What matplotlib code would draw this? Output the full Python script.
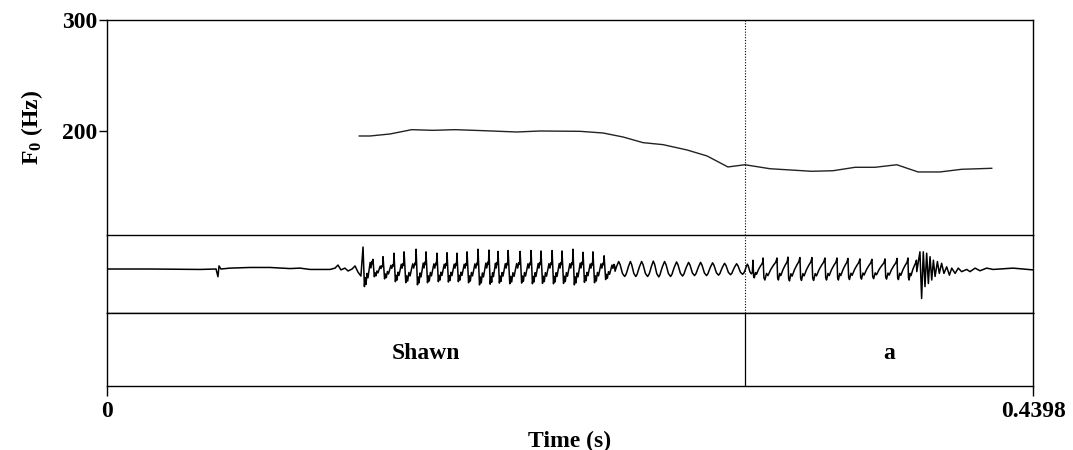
import numpy as np
import matplotlib
matplotlib.use('Agg')
import matplotlib.pyplot as plt

plt.rcParams['font.family'] = ['Liberation Serif', 'DejaVu Serif']
plt.rcParams['font.weight'] = 'bold'
plt.rcParams['axes.labelweight'] = 'bold'
plt.rcParams['mathtext.fontset'] = 'custom'
plt.rcParams['mathtext.rm'] = 'Liberation Serif:bold'
plt.rcParams['mathtext.default'] = 'rm'

# ---- data ----
t_end = 0.4398
boundary = 0.3030
tier_labels = ['Shawn', 'a']

# pitch track
f0_time = [0.1198, 0.1249, 0.1344, 0.1447, 0.1548, 0.1653, 0.1786, 0.1946, 0.2057,
           0.2247, 0.2356, 0.2451, 0.2546, 0.2641, 0.2755, 0.2850, 0.2949, 0.3030,
           0.3149, 0.3347, 0.3448, 0.3553, 0.3648, 0.3751, 0.3852, 0.3956, 0.4059, 0.4202]
f0_hz = [195.5, 195.5, 197.3, 201.2, 200.6, 201.2, 200.3, 199.1, 200.0,
         199.7, 198.2, 194.6, 189.5, 187.7, 182.9, 177.5, 167.6, 169.6,
         166.0, 163.7, 164.2, 167.3, 167.3, 169.6, 163.1, 163.1, 165.5, 166.4]

# waveform: quiet lead-in (time, amplitude)
pre_time = [0.0, 0.0204, 0.0442, 0.0518, 0.0527, 0.0532, 0.0541, 0.0584, 0.0679, 0.0774,
            0.0869, 0.0917, 0.0964, 0.1059, 0.1083, 0.1097, 0.1111, 0.1130, 0.1145,
            0.1164, 0.1178, 0.1192, 0.1206]
pre_amp = [0.0, 0.0, -0.01, 0.0, -0.175, 0.07, 0.0, 0.02, 0.035, 0.035,
           0.01, 0.02, -0.01, -0.01, 0.02, 0.09, -0.02, 0.02, -0.045,
           0.0, 0.07, -0.07, -0.16]

# glottal pulses, three stretches of voicing
pulse1_time = [0.1216, 0.1263, 0.1311, 0.1363, 0.1411, 0.1468, 0.1515, 0.1567, 0.1615,
               0.1662, 0.1710, 0.1762, 0.1814, 0.1857, 0.1905, 0.1962, 0.2014, 0.2061,
               0.2114, 0.2161, 0.2213, 0.2261, 0.2308, 0.2361]
pulse1_amp = [0.50, 0.22, 0.28, 0.36, 0.39, 0.45, 0.39, 0.36, 0.37, 0.36, 0.39, 0.45,
              0.43, 0.40, 0.42, 0.40, 0.42, 0.41, 0.42, 0.41, 0.45, 0.38, 0.39, 0.30]
pulse2_time = [0.2413, 0.2470, 0.2522, 0.2579, 0.2631, 0.2688, 0.2745, 0.2802, 0.2859,
               0.2916, 0.2973, 0.3030]
pulse2_amp = [0.17, 0.17, 0.17, 0.18, 0.17, 0.16, 0.15, 0.15, 0.14, 0.13, 0.12, 0.11]
pulse3_time = [0.3068, 0.3116, 0.3182, 0.3234, 0.3291, 0.3348, 0.3410, 0.3467, 0.3519,
               0.3576, 0.3633, 0.3695, 0.3752, 0.3804]
pulse3_amp = [0.20, 0.25, 0.25, 0.27, 0.26, 0.26, 0.25, 0.25, 0.24, 0.23, 0.22, 0.23,
              0.24, 0.25]

# release burst and tail (time, amplitude)
burst_time = [0.3846, 0.3861, 0.3869, 0.3877, 0.3885, 0.3893, 0.3901, 0.3909, 0.3917,
              0.3925, 0.3933, 0.3944, 0.3953, 0.3964, 0.3975, 0.3988, 0.4001, 0.4012,
              0.4028, 0.4043, 0.4059, 0.4083, 0.4099, 0.4123, 0.4146, 0.4178, 0.4209,
              0.4303, 0.4398]
burst_amp = [-0.06, 0.39, -0.67, 0.39, -0.40, 0.36, -0.33, 0.28, -0.25, 0.20, -0.17,
             0.17, -0.10, 0.13, -0.10, 0.05, -0.14, 0.02, -0.10, 0.02, -0.06, -0.01,
             -0.06, 0.02, -0.04, 0.02, -0.01, 0.02, -0.02]

# pulse shapes (phase within period, relative value)
shape1 = [(0.0, 1.0), (0.08, 0.0), (0.14, -0.8), (0.22, -0.4), (0.3, -0.7), (0.4, -0.2),
          (0.5, -0.4), (0.62, 0.0), (0.72, 0.3), (0.8, 0.05), (0.9, 0.35), (0.96, 0.25)]
shape2 = [(0.0, -0.3), (0.12, 0.3), (0.3, 1.0), (0.42, 0.6), (0.62, -0.6), (0.8, -1.0),
          (0.92, -0.7)]
shape3 = [(0.0, 1.0), (0.06, -0.8), (0.13, -1.0), (0.25, -0.4), (0.35, -0.6), (0.55, -0.05),
          (0.75, 0.35), (0.9, 0.6), (0.96, 0.8)]

# assemble waveform polyline
times = pulse1_time + pulse2_time + pulse3_time + [burst_time[0]]
amps = pulse1_amp + pulse2_amp + pulse3_amp
shapes = [shape1] * len(pulse1_time) + [shape2] * len(pulse2_time) + [shape3] * len(pulse3_time)
wx, wy = list(pre_time), list(pre_amp)
for i in range(len(amps)):
    t0, t1 = times[i], times[i + 1]
    for p, v in shapes[i]:
        wx.append(t0 + p * (t1 - t0))
        wy.append(amps[i] * v)
wx += burst_time
wy += burst_amp

# ---- figure ----
fig = plt.figure(figsize=(10.73, 4.5), dpi=100)
L, R = 107 / 1073, 1033 / 1073
ax_f0 = fig.add_axes([L, 1 - 235 / 450, R - L, 215 / 450])
ax_w = fig.add_axes([L, 1 - 313 / 450, R - L, 78 / 450], sharex=ax_f0)
ax_t = fig.add_axes([L, 1 - 386 / 450, R - L, 73 / 450], sharex=ax_f0)

for ax in (ax_f0, ax_w, ax_t):
    for s in ax.spines.values():
        s.set_linewidth(1.0)
    ax.tick_params(length=0, labelbottom=False, labelleft=False)

ax_f0.set_xlim(0, t_end)
ax_f0.plot(f0_time, f0_hz, color='#222222', lw=1.0)
ax_f0.set_ylim(106.3, 300)
ax_f0.spines['bottom'].set_visible(False)
ax_f0.set_yticks([200, 300])
ax_f0.tick_params(axis='y', length=6, width=1.0, labelleft=True, labelsize=17, pad=1)
ax_f0.set_ylabel('F$_0$ (Hz)', fontsize=17, fontweight='bold', labelpad=12)
ax_f0.axvline(boundary, color='black', lw=0.8, ls=(0, (1, 1.5)))

ax_w.plot(wx, wy, color='black', lw=1.1)
ax_w.set_ylim(-1.0, 0.773)
ax_w.set_yticks([])
ax_w.axvline(boundary, color='black', lw=0.8, ls=(0, (1, 1.5)))

ax_t.set_ylim(0, 1)
ax_t.set_yticks([])
ax_t.axvline(boundary, color='black', lw=0.9)
ax_t.text(boundary / 2, 0.45, tier_labels[0], ha='center', va='center', fontsize=17)
ax_t.text((boundary + t_end) / 2, 0.45, tier_labels[1], ha='center', va='center', fontsize=17)
ax_t.set_xticks([0, t_end])
ax_t.set_xticklabels(['0', '0.4398'])
ax_t.tick_params(axis='x', length=7, width=1.0, labelbottom=True, labelsize=17, pad=4)
ax_t.set_xlabel('Time (s)', fontsize=17, fontweight='bold', labelpad=6)

fig.savefig('out.png', dpi=100)
